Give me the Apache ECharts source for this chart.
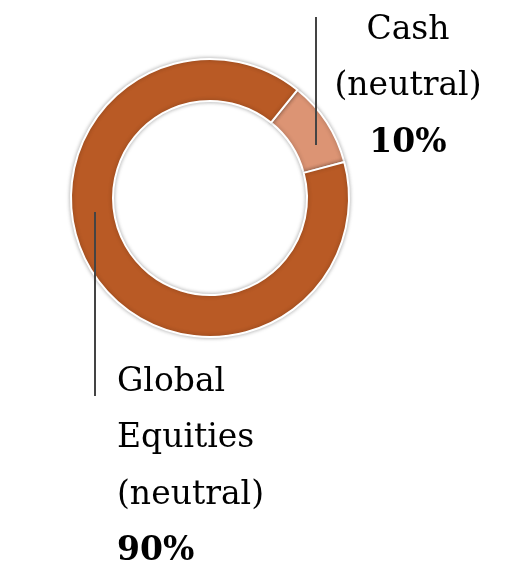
<!DOCTYPE html>
<html>
<head>
<meta charset="utf-8">
<script src="https://cdn.jsdelivr.net/npm/echarts@6/dist/echarts.min.js"></script>
<style>
  html, body { margin: 0; padding: 0; background: #fff; }
  #chart { width: 513px; height: 570px; }
</style>
</head>
<body>
<div id="chart"></div>
<script>
// data
const names = ['Cash\n(neutral)', 'Global\nEquities\n(neutral)']
const values = [10, 90]
const colors = ['#DC9474', '#B95A25']

// ring geometry (px)
const cx = 210, cy = 198
const rIn = 97, rOut = 139

// leader lines and label anchors
const labelPos = [
  { x: 408, y: 2, align: 'center', line: [[316, 145], [316, 17], [316, 17]] },
  { x: 117, y: 354, align: 'left', line: [[95, 212], [95, 396], [95, 396]] }
]

const chart = echarts.init(document.getElementById('chart'))

chart.setOption({
  animation: false,
  series: [
    // ring
    {
      type: 'pie',
      z: 2,
      center: [cx, cy],
      radius: [rIn, rOut],
      startAngle: 51,
      clockwise: true,
      silent: true,
      data: names.map((n, i) => ({
        name: n,
        value: values[i],
        itemStyle: { color: colors[i] }
      })),
      itemStyle: {
        borderColor: '#fff',
        borderWidth: 2,
        shadowBlur: 4,
        shadowColor: 'rgba(0,0,0,0.3)'
      },
      label: { show: false },
      labelLine: { show: false }
    },
    // labels and leader lines drawn on top of the ring
    {
      type: 'pie',
      z: 5,
      center: [cx, cy],
      radius: [rIn, rOut],
      startAngle: 51,
      clockwise: true,
      silent: true,
      data: names.map((n, i) => ({ name: n, value: values[i] })),
      itemStyle: { color: 'rgba(0,0,0,0)', borderWidth: 0 },
      label: {
        show: true,
        position: 'outside',
        alignTo: 'none',
        overflow: 'none',
        formatter: '{n|{b}}\n{p|{d}%}',
        rich: {
          n: {
            fontFamily: 'DejaVu Serif',
            fontSize: 33,
            color: '#000',
            lineHeight: 56.5
          },
          p: {
            fontFamily: 'DejaVu Serif',
            fontSize: 33,
            fontWeight: 'bold',
            color: '#000',
            lineHeight: 56.5
          }
        }
      },
      labelLine: {
        show: true,
        lineStyle: { color: '#444', width: 2 }
      },
      labelLayout: function (params) {
        const p = labelPos[params.dataIndex]
        return {
          x: p.x,
          y: p.y,
          align: p.align,
          verticalAlign: 'top',
          labelLinePoints: p.line
        }
      }
    }
  ]
})

window.addEventListener('resize', () => chart.resize())
</script>
</body>
</html>
